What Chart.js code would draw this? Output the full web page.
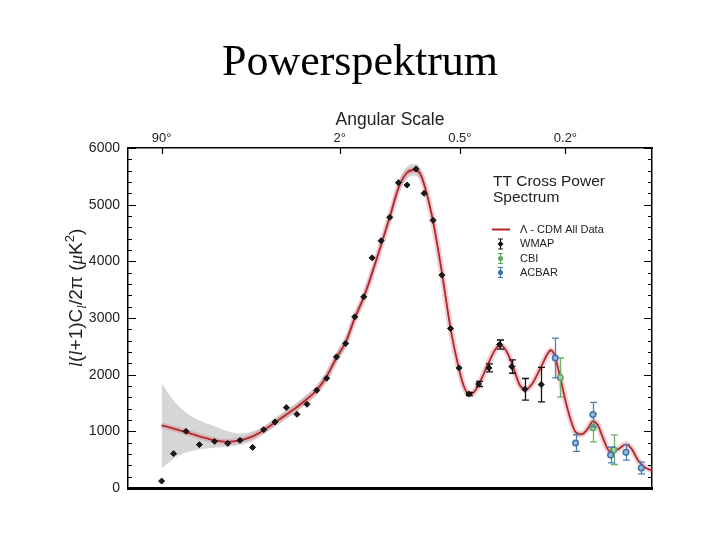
<!DOCTYPE html>
<html>
<head>
<meta charset="utf-8">
<script src="https://cdn.jsdelivr.net/npm/chart.js@4.4.1/dist/chart.umd.min.js"></script>
<style>
  body { margin: 0; background: #fff; }
  #wrap { position: relative; width: 720px; height: 540px; }
  #grafico { position: absolute; left: 0; top: 0; }
  #titulo {
    position: absolute; left: 0; top: 39px; width: 720px; margin: 0;
    text-align: center; font-family: "Liberation Serif", "Times New Roman", serif;
    font-size: 44px; line-height: 44px; font-weight: normal; color: #000;
  }
</style>
</head>
<body>
<div id="wrap">
  <canvas id="grafico" width="720" height="540"></canvas>
  <h1 id="titulo">Powerspektrum</h1>
</div>
<script>
"use strict";

// eje horizontal: multipolo l (el grafico usa una escala ~ l^(1/4))
const lMin = 0.48;
const lMax = 1674;

// escala angular (arriba)
const anguloL = [2, 90, 360, 900];
const anguloTxt = ["90°", "2°", "0.5°", "0.2°"];

// WMAP
const wmapL = [2, 3, 4.4, 6.4, 9.4, 12.8, 16.7, 21.6, 26.7, 32.8, 39.9, 47.6, 55.8, 64.7, 74.9, 86.1, 97.7, 110.2, 123.8, 137.5,
  153.5, 170.2, 188.2, 207.6, 229.3, 250, 274.9, 300.9, 328.4, 357.4, 392.5, 430.5, 473.2, 521.2, 580.3, 648.8, 742.5];
const wmapV = [122, 606, 1000, 765, 823, 788, 841, 717, 1030, 1165, 1419, 1300, 1477, 1724, 1937, 2313, 2549, 3020, 3373, 4062,
  4363, 4776, 5388, 5347, 5630, 5200, 4723, 3757, 2815, 2119, 1659, 1836, 2119, 2532, 2143, 1742, 1825];
const wmapErr = [0, 0, 0, 0, 0, 0, 0, 0, 0, 0, 0, 0, 0, 0, 0, 0, 0, 0, 0, 0,
  0, 0, 0, 0, 0, 0, 0, 0, 0, 0, 30, 45, 70, 80, 118, 190, 305];

// CBI
const cbiL = [864.3, 1107.7, 1286.6];
const cbiV = [1949, 1065, 677];
const cbiErr = [345, 250, 262];

// ACBAR
const acbarL = [830.9, 973, 1107.7, 1259.3, 1402.8, 1557.5];
const acbarV = [2295, 793, 1295, 581, 629, 352];
const acbarErr = [350, 147, 215, 138, 138, 103];

// modelo Lambda-CDM
const modeloL = [2, 3.1, 4.5, 6.4, 9.4, 12.8, 16.6, 21.6, 26.7, 32.6, 40.2, 47.4, 55.5, 64.7, 75, 86.4, 97.7, 110.2, 123.8, 136.9,
  152.9, 170.2, 189, 206.9, 223.6, 238.7, 254.6, 274.1, 300.9, 329.4, 356.5, 374.3, 392.7, 411.7, 431.6, 473.2, 499.6, 522.5, 550.9, 580.3,
  621.8, 654.1, 687.7, 740.5, 783.7, 802.8, 828.7, 862, 917.5, 975.4, 1020.7, 1067.6, 1107.7, 1149.2, 1183.2, 1253.2, 1326.4, 1402.8, 1462.2, 1523.4,
  1597.2, 1673.7];
const modeloV = [1106, 1044, 982, 912, 841, 815, 841, 912, 1018, 1150, 1301, 1424, 1566, 1725, 1972, 2308, 2573, 2997, 3368, 3774,
  4269, 4782, 5312, 5559, 5612, 5559, 5259, 4729, 3810, 2785, 2113, 1795, 1654, 1689, 1831, 2219, 2431, 2520, 2431, 2202,
  1813, 1742, 1831, 2131, 2378, 2431, 2325, 1972, 1371, 982, 947, 1053, 1177, 1106, 929, 647, 682, 770, 682, 488,
  364, 311];

// banda gris (varianza cosmica)
const bandaL = [2, 3.1, 4.5, 6.4, 9.4, 12.8, 16.6, 21.6, 26.7, 32.6, 40.2, 47.4, 55.5, 64.7, 75, 86.4, 97.7, 110.2, 123.8, 136.9,
  152.9, 170.2, 189, 206.9, 223.6, 238.7, 254.6, 274.1, 300.9, 329.4];
const bandaSup = [1848, 1520, 1320, 1190, 1090, 1000, 960, 1000, 1090, 1230, 1380, 1505, 1650, 1810, 2060, 2395, 2660, 3085, 3455, 3860,
  4355, 4870, 5405, 5665, 5720, 5660, 5345, 4810, 3880, 2840];
const bandaInf = [346, 530, 630, 680, 710, 730, 760, 830, 950, 1075, 1225, 1345, 1485, 1640, 1885, 2220, 2485, 2910, 3280, 3690,
  4185, 4695, 5220, 5455, 5505, 5460, 5175, 4650, 3740, 2730];

const ROJO = "#b3262c";
const VERDE = "#5fa65c";
const AZUL = "#3e72ae";

const eje = l => Math.pow(l, 0.25);
const pares = (ls, vs) => ls.map((l, i) => ({ x: eje(l), y: vs[i] }));

Chart.defaults.font.family = '"Liberation Sans", Arial, sans-serif';
Chart.defaults.color = "#222";

// barras de error, dibujadas justo antes de los marcadores de cada serie
const barrasError = {
  id: "barrasError",
  beforeDatasetDraw(chart, args) {
    const ds = chart.data.datasets[args.index];
    if (!ds.errores) return;
    const { ctx, scales } = chart;
    ctx.save();
    ctx.strokeStyle = ds.colorError;
    ctx.lineWidth = 1.3;
    ctx.beginPath();
    ds.data.forEach((p, i) => {
      const e = ds.errores[i];
      if (!e) return;
      const px = Math.round(scales.x.getPixelForValue(p.x)) + 0.5;
      const y1 = scales.y.getPixelForValue(p.y + e);
      const y2 = scales.y.getPixelForValue(p.y - e);
      ctx.moveTo(px, y1); ctx.lineTo(px, y2);
      ctx.moveTo(px - 3.5, y1); ctx.lineTo(px + 3.5, y1);
      ctx.moveTo(px - 3.5, y2); ctx.lineTo(px + 3.5, y2);
    });
    ctx.stroke();
    ctx.restore();
  }
};

function textoRico(ctx, partes, cx, cy) {
  let total = 0;
  partes.forEach(p => { ctx.font = p.f; total += ctx.measureText(p.t).width; });
  ctx.save();
  ctx.translate(cx, cy);
  ctx.rotate(-Math.PI / 2);
  ctx.textBaseline = "alphabetic";
  ctx.textAlign = "left";
  let x = -total / 2;
  partes.forEach(p => {
    ctx.font = p.f;
    ctx.fillText(p.t, x, 7 + (p.dy || 0));
    x += ctx.measureText(p.t).width;
  });
  ctx.restore();
}

function iconoError(ctx, x, y, color, estilo) {
  ctx.strokeStyle = color;
  ctx.lineWidth = 1.2;
  ctx.beginPath();
  ctx.moveTo(x, y - 5); ctx.lineTo(x, y + 5);
  ctx.moveTo(x - 2.5, y - 5); ctx.lineTo(x + 2.5, y - 5);
  ctx.moveTo(x - 2.5, y + 5); ctx.lineTo(x + 2.5, y + 5);
  ctx.stroke();
  ctx.fillStyle = color;
  ctx.beginPath();
  if (estilo === "rombo") {
    ctx.moveTo(x, y - 3); ctx.lineTo(x + 3, y); ctx.lineTo(x, y + 3); ctx.lineTo(x - 3, y);
    ctx.closePath();
  } else {
    ctx.arc(x, y, 2.5, 0, Math.PI * 2);
  }
  ctx.fill();
}

// marcas interiores del marco, titulo del eje Y y leyenda
const marcas = {
  id: "marcas",
  afterDraw(chart) {
    const { ctx, chartArea: a, scales } = chart;
    ctx.save();
    ctx.strokeStyle = "#000";
    ctx.lineWidth = 1.2;
    ctx.beginPath();
    for (let v = 0; v <= 6000; v += 200) {
      const py = Math.round(scales.y.getPixelForValue(v)) + 0.5;
      const len = v % 1000 === 0 ? 8 : 4;
      ctx.moveTo(a.left, py); ctx.lineTo(a.left + len, py);
      ctx.moveTo(a.right, py); ctx.lineTo(a.right - len, py);
    }
    anguloL.forEach(l => {
      const px = Math.round(scales.x.getPixelForValue(eje(l))) + 0.5;
      ctx.moveTo(px, a.top); ctx.lineTo(px, a.top + 6);
    });
    ctx.stroke();

    // titulo eje Y
    ctx.fillStyle = "#222";
    const F = '19px "Liberation Sans", Arial, sans-serif';
    const FI = 'italic 19px "Liberation Serif", serif';
    const FS = '13px "Liberation Sans", Arial, sans-serif';
    const FSI = 'italic 13px "Liberation Serif", serif';
    textoRico(ctx, [
      { t: "l", f: FI }, { t: "(", f: F }, { t: "l", f: FI }, { t: "+1)C", f: F },
      { t: "l", f: FSI, dy: 4 }, { t: "/2π (", f: F }, { t: "μ", f: FI }, { t: "K", f: F },
      { t: "2", f: FS, dy: -8 }, { t: ")", f: F }
    ], 75, 298);

    // leyenda
    ctx.textAlign = "left";
    ctx.textBaseline = "middle";
    ctx.fillStyle = "#222";
    ctx.font = '15.5px "Liberation Sans", Arial, sans-serif';
    ctx.fillText("TT Cross Power", 493, 182);
    ctx.fillText("Spectrum", 493, 198);

    ctx.strokeStyle = ROJO;
    ctx.lineWidth = 2;
    ctx.beginPath();
    ctx.moveTo(492, 229.5); ctx.lineTo(510, 229.5);
    ctx.stroke();
    iconoError(ctx, 500.5, 244, "#111", "rombo");
    iconoError(ctx, 500.5, 258.5, VERDE, "circulo");
    iconoError(ctx, 500.5, 272.5, AZUL, "circulo");

    ctx.fillStyle = "#222";
    ctx.font = '11px "Liberation Sans", Arial, sans-serif';
    ctx.fillText("Λ - CDM All Data", 520, 229.5);
    ctx.fillText("WMAP", 520, 244);
    ctx.fillText("CBI", 520, 258.5);
    ctx.fillText("ACBAR", 520, 272.5);
    ctx.restore();
  }
};

new Chart(document.getElementById("grafico"), {
  type: "line",
  data: {
    datasets: [
      {
        label: "ACBAR",
        data: pares(acbarL, acbarV),
        showLine: false,
        pointStyle: "circle",
        pointRadius: 2.8,
        pointBackgroundColor: "#9bb9dc",
        pointBorderColor: AZUL,
        pointBorderWidth: 1.5,
        errores: acbarErr,
        colorError: "#4d7fb8"
      },
      {
        label: "CBI",
        data: pares(cbiL, cbiV),
        showLine: false,
        pointStyle: "circle",
        pointRadius: 2.8,
        pointBackgroundColor: "#a8d3a4",
        pointBorderColor: VERDE,
        pointBorderWidth: 1.5,
        errores: cbiErr,
        colorError: "#6cb068"
      },
      {
        label: "WMAP",
        data: pares(wmapL, wmapV),
        showLine: false,
        pointStyle: "rectRot",
        pointRadius: 3,
        pointBackgroundColor: "#1a1a1a",
        pointBorderColor: "#111",
        pointBorderWidth: 1,
        errores: wmapErr,
        colorError: "#111"
      },
      {
        label: "Λ - CDM All Data",
        data: pares(modeloL, modeloV),
        borderColor: ROJO,
        borderWidth: 1.8,
        pointRadius: 0,
        cubicInterpolationMode: "monotone",
        fill: false
      },
      {
        label: "halo",
        data: pares(modeloL, modeloV),
        borderColor: "rgba(214,120,125,0.35)",
        borderWidth: 6,
        pointRadius: 0,
        cubicInterpolationMode: "monotone",
        fill: false
      },
      {
        label: "banda sup",
        data: pares(bandaL, bandaSup),
        borderColor: "rgba(0,0,0,0)",
        borderWidth: 0,
        pointRadius: 0,
        cubicInterpolationMode: "monotone",
        backgroundColor: "#d6d6d6",
        fill: "+1"
      },
      {
        label: "banda inf",
        data: pares(bandaL, bandaInf),
        borderColor: "rgba(0,0,0,0)",
        borderWidth: 0,
        pointRadius: 0,
        cubicInterpolationMode: "monotone",
        fill: false
      }
    ]
  },
  options: {
    responsive: false,
    animation: false,
    events: [],
    layout: { padding: 0 },
    plugins: {
      legend: { display: false },
      tooltip: { enabled: false }
    },
    scales: {
      x: {
        type: "linear",
        position: "bottom",
        min: eje(lMin),
        max: eje(lMax),
        ticks: { display: false },
        grid: { display: false, drawTicks: false },
        border: { display: true, color: "#000", width: 3 },
        afterFit: s => { s.height = 52; }
      },
      x2: {
        type: "linear",
        position: "top",
        min: eje(lMin),
        max: eje(lMax),
        afterBuildTicks: s => { s.ticks = anguloL.map(l => ({ value: eje(l) })); },
        ticks: {
          autoSkip: false,
          maxRotation: 0,
          padding: 1.5,
          color: "#222",
          font: { size: 13 },
          callback: (v, i) => anguloTxt[i]
        },
        grid: { display: false, drawTicks: false },
        border: { display: true, color: "#000", width: 1.5 },
        title: {
          display: true,
          text: "Angular Scale",
          color: "#222",
          font: { size: 17.5 },
          padding: { top: 109.5, bottom: 0 }
        },
        afterFit: s => { s.height = 148; }
      },
      y: {
        type: "linear",
        position: "left",
        min: 0,
        max: 6000,
        ticks: {
          stepSize: 1000,
          padding: 8,
          color: "#222",
          font: { size: 14 },
          callback: v => String(v)
        },
        grid: { display: false, drawTicks: false },
        border: { display: true, color: "#000", width: 1.5 },
        afterFit: s => { s.width = 128; }
      },
      y2: {
        type: "linear",
        position: "right",
        min: 0,
        max: 6000,
        ticks: { display: false },
        grid: { display: false, drawTicks: false },
        border: { display: true, color: "#000", width: 1.5 },
        afterFit: s => { s.width = 68; }
      }
    }
  },
  plugins: [barrasError, marcas]
});
</script>
</body>
</html>
